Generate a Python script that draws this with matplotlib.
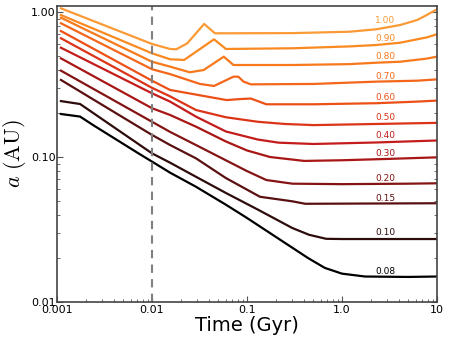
import matplotlib
matplotlib.use("Agg")
import matplotlib.pyplot as plt
from matplotlib.ticker import FixedLocator, FixedFormatter, LogLocator, NullFormatter

plt.rcParams['mathtext.fontset'] = 'cm'

masses = ["0.08", "0.10", "0.15", "0.20", "0.30", "0.40", "0.50", "0.60", "0.70", "0.80", "0.90", "1.00"]
colors = ["#000000", "#2e0c0c", "#5a1010", "#841414", "#a81616", "#c41c1c", "#dc3418",
          "#ec5016", "#f4661a", "#f7791c", "#f98a22", "#fa9a36"]

t_008 = [0.0011, 0.00175, 0.0024, 0.0072, 0.01, 0.0155, 0.029, 0.06, 0.1, 0.3, 0.44, 0.66, 1.0, 1.75, 5.0, 10.0]
a_008 = [0.198, 0.190, 0.166, 0.106, 0.093, 0.078, 0.0624, 0.0469, 0.038, 0.0237, 0.0201, 0.0172, 0.0157, 0.0150, 0.0149, 0.0150]

t_010 = [0.0011, 0.00175, 0.01, 0.0155, 0.029, 0.06, 0.131, 0.30, 0.45, 0.68, 1.0, 10.0]
a_010 = [0.243, 0.232, 0.106, 0.0914, 0.0731, 0.0565, 0.0433, 0.0324, 0.0291, 0.0273, 0.0272, 0.0272]

t_015 = [0.0011, 0.01, 0.0155, 0.029, 0.06, 0.137, 0.3, 0.41, 10.0]
a_015 = [0.340, 0.142, 0.121, 0.098, 0.0716, 0.0532, 0.0495, 0.0476, 0.048]

t_020 = [0.0011, 0.01, 0.0155, 0.029, 0.1, 0.16, 0.3, 1.0, 5.0, 10.0]
a_020 = [0.394, 0.175, 0.149, 0.121, 0.080, 0.0694, 0.0655, 0.065, 0.0655, 0.0659]

t_030 = [0.0011, 0.01, 0.0155, 0.029, 0.06, 0.1, 0.175, 0.4, 1.0, 3.0, 10.0]
a_030 = [0.479, 0.217, 0.195, 0.162, 0.128, 0.111, 0.100, 0.094, 0.095, 0.097, 0.0995]

t_040 = [0.0011, 0.01, 0.0155, 0.029, 0.06, 0.13, 0.215, 0.5, 2.3, 10.0]
a_040 = [0.567, 0.275, 0.241, 0.190, 0.150, 0.1320, 0.1256, 0.123, 0.126, 0.130]

t_050 = [0.0011, 0.01, 0.0155, 0.029, 0.06, 0.13, 0.25, 0.5, 2.3, 10.0]
a_050 = [0.659, 0.300, 0.262, 0.211, 0.188, 0.175, 0.169, 0.166, 0.169, 0.172]

t_060 = [0.0011, 0.01, 0.0155, 0.061, 0.085, 0.11, 0.16, 0.5, 2.3, 6.2, 10.0]
a_060 = [0.739, 0.336, 0.290, 0.247, 0.251, 0.253, 0.231, 0.231, 0.235, 0.241, 0.245]

t_070 = [0.0011, 0.01, 0.0155, 0.032, 0.045, 0.072, 0.081, 0.092, 0.11, 0.5, 2.3, 6.2, 10.0]
a_070 = [0.836, 0.403, 0.373, 0.319, 0.309, 0.358, 0.358, 0.331, 0.317, 0.319, 0.331, 0.336, 0.343]

t_080 = [0.0011, 0.01, 0.0155, 0.025, 0.035, 0.057, 0.072, 0.3, 1.2, 2.3, 4.1, 7.8, 10.0]
a_080 = [0.913, 0.454, 0.420, 0.384, 0.398, 0.492, 0.431, 0.431, 0.437, 0.447, 0.454, 0.477, 0.492]

t_090 = [0.0011, 0.01, 0.0155, 0.0218, 0.045, 0.06, 0.3, 1.2, 2.3, 4.1, 7.8, 10.0]
a_090 = [0.953, 0.519, 0.472, 0.467, 0.648, 0.556, 0.562, 0.579, 0.592, 0.614, 0.668, 0.702]

t_100 = [0.0011, 0.01, 0.0155, 0.018, 0.0235, 0.0354, 0.046, 0.3, 1.2, 2.3, 4.1, 6.2, 7.8, 10.0]
a_100 = [1.06, 0.602, 0.556, 0.553, 0.608, 0.827, 0.713, 0.715, 0.731, 0.760, 0.813, 0.881, 0.953, 1.044]

label_t = 2.85
label_a = [0.0162, 0.0300, 0.0519, 0.0713, 0.105, 0.140, 0.188, 0.258, 0.358, 0.492, 0.659, 0.871]

series_t = [t_008, t_010, t_015, t_020, t_030, t_040, t_050, t_060, t_070, t_080, t_090, t_100]
series_a = [a_008, a_010, a_015, a_020, a_030, a_040, a_050, a_060, a_070, a_080, a_090, a_100]

x_ticks = [0.001, 0.01, 0.1, 1.0, 10.0]
x_ticklabels = ["0.001", "0.01", "0.1", "1.0", "10"]
y_ticks = [0.01, 0.1, 1.0]
y_ticklabels = ["0.01", "0.10", "1.00"]

fig = plt.figure(figsize=(4.5, 3.46), dpi=100)
ax = fig.add_axes([0.1267, 0.127, 0.8443, 0.8557])

for ts, as_, c, m, la in zip(series_t, series_a, colors, masses, label_a):
    ax.plot(ts, as_, color=c, lw=1.6, solid_joinstyle='round')
    ax.text(label_t, la, m, color=c, fontsize=6.5, ha='center', va='center')

ax.axvline(0.01, color='#808080', lw=1.5, ls=(0, (4, 3)))

ax.set_xscale('log')
ax.set_yscale('log')
ax.set_xlim(0.001, 10)
ax.set_ylim(0.01, 1.10)

ax.xaxis.set_major_locator(FixedLocator(x_ticks))
ax.xaxis.set_major_formatter(FixedFormatter(x_ticklabels))
ax.yaxis.set_major_locator(FixedLocator(y_ticks))
ax.yaxis.set_major_formatter(FixedFormatter(y_ticklabels))
ax.xaxis.set_minor_locator(LogLocator(base=10, subs=range(2, 10)))
ax.yaxis.set_minor_locator(LogLocator(base=10, subs=range(2, 10)))
ax.xaxis.set_minor_formatter(NullFormatter())
ax.yaxis.set_minor_formatter(NullFormatter())

ax.tick_params(which='both', direction='in', top=False, right=True, labelsize=8, color='#555555')
ax.tick_params(which='major', length=4)
ax.tick_params(which='minor', length=2)
ax.tick_params(axis='x', pad=2)
ax.tick_params(axis='y', pad=1)
for s in ax.spines.values():
    s.set_color('#444444')
    s.set_linewidth(1.2)

ax.set_xlabel("Time (Gyr)", fontsize=14, labelpad=1)
ax.set_ylabel(r"$a\ \mathrm{(AU)}$", fontsize=16, labelpad=2)

fig.savefig("out.png", dpi=100)
